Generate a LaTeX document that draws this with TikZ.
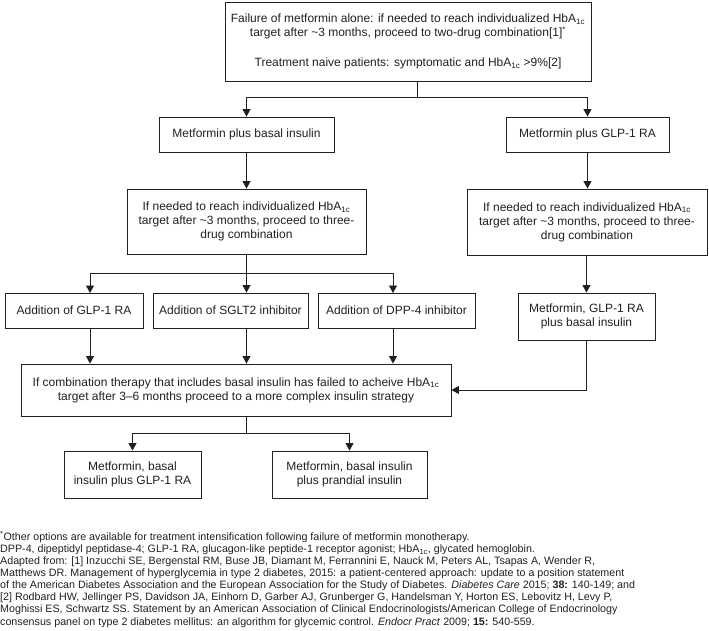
\documentclass[tikz,border=0pt]{standalone}
\usepackage{fontspec}
\setmainfont{Liberation Sans}
\usetikzlibrary{arrows.meta}
\definecolor{ink}{RGB}{35,31,32}
\newcommand{\hba}{HbA\textsubscript{1c}}
\begin{document}
\begin{tikzpicture}[x=1pt,y=-1pt,
  font=\fontsize{12}{14}\selectfont,
  box/.style={draw=ink, line width=0.9pt, inner sep=0pt, align=center, text=ink},
  ln/.style={draw=ink, line width=0.9pt},
  arr/.style={draw=ink, line width=0.9pt, -{Triangle[width=8pt,length=7.5pt]}},
  note/.style={anchor=north west, inner sep=0pt, align=left, text=ink,
    font=\fontsize{10.7}{12.1}\selectfont}]
\useasboundingbox (0,0) rectangle (709,630);

\node[box, minimum width=366pt, minimum height=79pt] (top) at (408,41.5)
 {Failure of metformin alone: if needed to reach individualized \hba\\
  target after \textasciitilde3 months, proceed to two-drug combination[1]\textsuperscript{*}\\[16pt]
  Treatment naive patients: symptomatic and \hba{} >9\%[2]};

\node[box, minimum width=175pt, minimum height=35pt] (b1) at (246.5,134.5) {Metformin plus basal insulin};
\node[box, minimum width=163pt, minimum height=35pt] (b2) at (587.5,134.5) {Metformin plus GLP-1 RA};

\node[box, minimum width=239pt, minimum height=65pt] (c1) at (246.5,221.5)
 {If needed to reach individualized \hba\\ target after \textasciitilde3 months, proceed to three-\\ drug combination};
\node[box, minimum width=240pt, minimum height=66pt] (c2) at (587,222)
 {If needed to reach individualized \hba\\ target after \textasciitilde3 months, proceed to three-\\ drug combination};

\node[box, minimum width=138pt, minimum height=35pt] (d1) at (74,310.5) {Addition of GLP-1 RA};
\node[box, minimum width=155pt, minimum height=35pt] (d2) at (230.5,310.5) {Addition of SGLT2 inhibitor};
\node[box, minimum width=157pt, minimum height=35pt] (d3) at (396.5,310.5) {Addition of DPP-4 inhibitor};
\node[box, minimum width=137pt, minimum height=47pt] (d4) at (586.5,316.5) {Metformin, GLP-1 RA\\ plus basal insulin};

\node[box, minimum width=430pt, minimum height=52pt] (e) at (236,390)
 {If combination therapy that includes basal insulin has failed to acheive \hba\\
  target after 3--6 months proceed to a more complex insulin strategy};

\node[box, minimum width=137pt, minimum height=47pt] (f1) at (132.5,474.5) {Metformin, basal\\ insulin plus GLP-1 RA};
\node[box, minimum width=155pt, minimum height=47pt] (f2) at (349.5,474.5) {Metformin, basal insulin\\ plus prandial insulin};

% connectors
\coordinate (j1) at (417,97);
\draw[ln] (top.south -| j1) -- (j1);
\draw[arr] (j1) -| (b1.north);
\draw[arr] (j1) -| (b2.north);
\draw[arr] (b1.south) -- (c1.north);
\draw[arr] (b2.south) -- (c2.north -| b2.south);

\coordinate (j2) at (246.5,273);
\coordinate (a1) at (90,293);
\coordinate (a3) at (393,293);
\draw[ln] (c1.south) -- (j2);
\draw[arr] (j2) -| (a1);
\draw[arr] (j2) -| (a3);
\draw[arr] (j2) -- (j2 |- d2.north);
\draw[arr] (d4.north |- c2.south) -- (d4.north);

\draw[arr] (a1 |- d1.south) -- (a1 |- e.north);
\draw[arr] (j2 |- d2.south) -- (j2 |- e.north);
\draw[arr] (a3 |- d3.south) -- (a3 |- e.north);
\draw[arr] (d4.south) |- (e.east);

\coordinate (j3) at (246,433);
\draw[ln] (e.south -| j3) -- (j3);
\draw[arr] (j3) -| (f1.north);
\draw[arr] (j3) -| (f2.north);

\node[note] (fn) at (0,531)
 {\textsuperscript{*}Other options are available for treatment intensification following failure of metformin monotherapy.\\
  DPP-4, dipeptidyl peptidase-4; GLP-1 RA, glucagon-like peptide-1 receptor agonist; \hba, glycated hemoglobin.\\
  Adapted from: [1] Inzucchi SE, Bergenstal RM, Buse JB, Diamant M, Ferrannini E, Nauck M, Peters AL, Tsapas A, Wender R,\\
  Matthews DR. Management of hyperglycemia in type 2 diabetes, 2015: a patient-centered approach: update to a position statement\\
  of the American Diabetes Association and the European Association for the Study of Diabetes. \textit{Diabetes Care} 2015; \textbf{38:} 140-149; and\\
  \relax{[2]} Rodbard HW, Jellinger PS, Davidson JA, Einhorn D, Garber AJ, Grunberger G, Handelsman Y, Horton ES, Lebovitz H, Levy P,\\
  Moghissi ES, Schwartz SS. Statement by an American Association of Clinical Endocrinologists/American College of Endocrinology\\
  consensus panel on type 2 diabetes mellitus: an algorithm for glycemic control. \textit{Endocr Pract} 2009; \textbf{15:} 540-559.};
\end{tikzpicture}
\end{document}
